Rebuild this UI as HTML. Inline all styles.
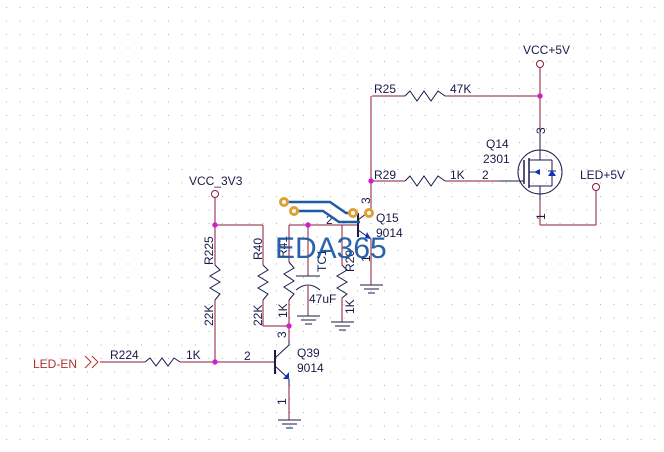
<!DOCTYPE html>
<html><head><meta charset="utf-8"><style>
html,body{margin:0;padding:0;background:#fff;}
svg{display:block;}
text{font-family:"Liberation Sans",sans-serif;font-size:12px;fill:#1a1a4a;}
</style></head><body>
<svg width="664" height="452" viewBox="0 0 664 452" xmlns="http://www.w3.org/2000/svg">
<defs>
<pattern id="g" x="6" y="7" width="13.5" height="13.5" patternUnits="userSpaceOnUse">
<rect width="1" height="1" fill="#b0b0b0"/>
</pattern>
</defs>
<rect width="664" height="452" fill="url(#g)"/>
<g stroke="#8b1a3a" stroke-width="1" fill="none">
<line x1="540" y1="68" x2="540" y2="130"/>
<line x1="372" y1="96" x2="405" y2="96"/>
<line x1="445" y1="96" x2="540" y2="96"/>
<line x1="371" y1="96" x2="371" y2="210"/>
<line x1="371" y1="181" x2="405" y2="181"/>
<line x1="445" y1="181" x2="500" y2="181"/>
<line x1="540" y1="200" x2="540" y2="225"/>
<line x1="540" y1="225" x2="596" y2="225"/>
<line x1="596" y1="225" x2="596" y2="191"/>
<line x1="371" y1="239" x2="371" y2="285"/>
<line x1="289" y1="225" x2="358" y2="225"/>
<line x1="215" y1="198" x2="215" y2="265"/>
<line x1="215" y1="300" x2="215" y2="362"/>
<line x1="215" y1="225" x2="263" y2="225"/>
<line x1="263" y1="225" x2="263" y2="265"/>
<line x1="263" y1="300" x2="263" y2="326"/>
<line x1="263" y1="326" x2="289" y2="326"/>
<line x1="289" y1="225" x2="289" y2="262"/>
<line x1="289" y1="300" x2="289" y2="340"/>
<line x1="308" y1="225" x2="308" y2="276"/>
<line x1="308" y1="286" x2="308" y2="316"/>
<line x1="342" y1="225" x2="342" y2="265"/>
<line x1="342" y1="298" x2="342" y2="322"/>
<line x1="100" y1="362" x2="145" y2="362"/>
<line x1="180" y1="362" x2="275" y2="362"/>
<line x1="289" y1="385" x2="289" y2="420"/>
</g>
<g stroke="#1a1a4a" stroke-width="1" fill="none">
<polyline points="405,96 410,91 417,101 424,91 431,101 438,91 445,96"/>
<polyline points="405,181 410,176 417,186 424,176 431,186 438,176 445,181"/>
<polyline points="145,362 150,358 156,366 162,358 168,366 174,358 180,362"/>
<polyline points="215,265 220,270 210,276 220,282 210,288 220,294 215,300"/>
<polyline points="263,265 268,270 258,276 268,282 258,288 268,294 263,300"/>
<polyline points="289,262 294,268 284,274 294,281 284,287 294,294 289,300"/>
<polyline points="342,265 347,270 337,276 347,282 337,288 347,294 342,298"/>
<line x1="296" y1="276" x2="320" y2="276"/>
<path d="M296,290 Q308,280 320,290"/>
<g>
<line x1="360" y1="285" x2="383" y2="285"/><line x1="364" y1="289" x2="379" y2="289"/><line x1="368" y1="293" x2="375" y2="293"/>
<line x1="297" y1="316" x2="320" y2="316"/><line x1="301" y1="320" x2="316" y2="320"/><line x1="305" y1="324" x2="312" y2="324"/>
<line x1="331" y1="322" x2="354" y2="322"/><line x1="335" y1="326" x2="350" y2="326"/><line x1="339" y1="330" x2="346" y2="330"/>
<line x1="278" y1="420" x2="301" y2="420"/><line x1="282" y1="424" x2="297" y2="424"/><line x1="286" y1="428" x2="293" y2="428"/>
</g>
<line x1="275" y1="350" x2="275" y2="374" stroke-width="2"/>
<line x1="275" y1="358" x2="289" y2="345"/><line x1="289" y1="345" x2="289" y2="340"/>
<line x1="275" y1="366" x2="289" y2="379"/><line x1="289" y1="379" x2="289" y2="385"/>
<line x1="358" y1="213" x2="358" y2="237" stroke-width="2"/>
<line x1="358" y1="220" x2="371" y2="210"/>
<line x1="358" y1="230" x2="371" y2="239"/>
<circle cx="540" cy="172" r="22"/>
<line x1="540" y1="130" x2="540" y2="150"/>
<line x1="540" y1="194" x2="540" y2="200"/>
<line x1="500" y1="181" x2="524" y2="181"/>
<line x1="524" y1="160" x2="524" y2="184" stroke-width="1.5"/>
<line x1="529" y1="158" x2="529" y2="188" stroke-width="1.5"/>
<line x1="529" y1="160" x2="540" y2="160"/><line x1="540" y1="150" x2="540" y2="160"/>
<line x1="529" y1="172" x2="540" y2="172"/>
<line x1="529" y1="186" x2="540" y2="186"/><line x1="540" y1="186" x2="540" y2="194"/>
<line x1="540" y1="160" x2="552" y2="160"/><line x1="552" y1="160" x2="552" y2="186"/><line x1="540" y1="186" x2="552" y2="186"/>
<line x1="548" y1="171" x2="556" y2="171"/>
<polyline points="85,356 91,362 85,368" stroke="#b03030"/>
<polyline points="92,356 98,362 92,368" stroke="#b03030"/>
</g>
<polygon points="283,379 289,379 289,372" fill="#1030c0"/>
<polygon points="365,238 371,239 367,232" fill="#1030c0"/>
<polygon points="534,172 540,169 540,175" fill="#1030c0"/>
<polygon points="548,176 556,176 552,170" fill="#1030c0"/>
<g stroke="#8b1a3a" fill="#fff">
<circle cx="540" cy="64" r="3.5"/>
<circle cx="596" cy="187" r="3.5"/>
<circle cx="215" cy="194" r="3.5"/>
</g>
<g fill="#cc22cc">
<circle cx="540" cy="96" r="2.7"/>
<circle cx="371" cy="181" r="2.7"/>
<circle cx="215" cy="225" r="2.7"/>
<circle cx="308" cy="225" r="2.7"/>
<circle cx="289" cy="326" r="2.7"/>
<circle cx="215" cy="362" r="2.7"/>
</g>
<text x="523" y="54">VCC+5V</text>
<text x="580" y="179">LED+5V</text>
<text x="189" y="185">VCC_3V3</text>
<text x="33" y="368" style="fill:#b03030">LED-EN</text>
<text x="374" y="93">R25</text>
<text x="450" y="93">47K</text>
<text x="374" y="179">R29</text>
<text x="450" y="179">1K</text>
<text x="482" y="179">2</text>
<text x="486" y="148">Q14</text>
<text x="483" y="163">2301</text>
<text x="376" y="222">Q15</text>
<text x="376" y="237">9014</text>
<text x="326" y="224">2</text>
<text x="110" y="359">R224</text>
<text x="186" y="359">1K</text>
<text x="244" y="360">2</text>
<text x="297" y="357">Q39</text>
<text x="297" y="372">9014</text>
<text x="309" y="303">47uF</text>
<g>
<text transform="translate(545,134) rotate(-90)">3</text>
<text transform="translate(545,220) rotate(-90)">1</text>
<text transform="translate(370,204) rotate(-90)">3</text>
<text transform="translate(370,262) rotate(-90)">1</text>
<text transform="translate(286,338) rotate(-90)">3</text>
<text transform="translate(286,405) rotate(-90)">1</text>
<text transform="translate(213,265) rotate(-90)">R225</text>
<text transform="translate(213,326) rotate(-90)">22K</text>
<text transform="translate(262,260) rotate(-90)">R40</text>
<text transform="translate(262,326) rotate(-90)">22K</text>
<text transform="translate(287,258) rotate(-90)">R41</text>
<text transform="translate(287,318) rotate(-90)">1K</text>
<text transform="translate(326,272) rotate(-90)">TC1</text>
<text transform="translate(354,272) rotate(-90)">R20</text>
<text transform="translate(354,314) rotate(-90)">1K</text>
</g>
<g stroke="#1f5aa8" stroke-width="2.5" fill="none">
<polyline points="285,202 330,202 346,213 358,213"/>
<polyline points="293,211 323,211 339,222 360,222"/>
</g>
<g stroke="#e0a030" stroke-width="3" fill="#fff">
<circle cx="284" cy="202" r="3.5"/>
<circle cx="294" cy="211" r="3.5"/>
<circle cx="353" cy="213" r="3.5"/>
<circle cx="369" cy="213" r="3.5"/>
</g>
<text x="275" y="258" style="font-size:30px;fill:#1f5aa8;opacity:0.95">EDA365</text>
</svg>
</body></html>
